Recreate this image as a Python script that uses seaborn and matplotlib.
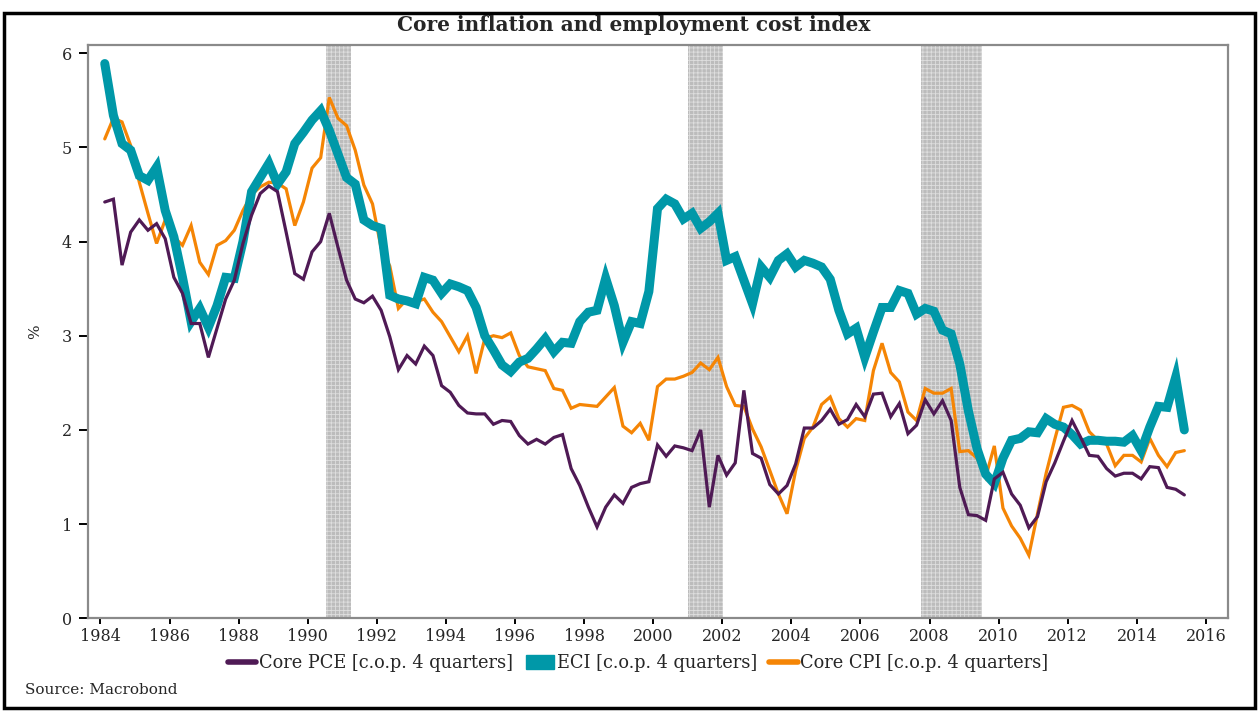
import numpy as np
import pandas as pd
import matplotlib
matplotlib.use("Agg")
import matplotlib.pyplot as plt
from matplotlib.lines import Line2D
from matplotlib.patches import Patch, Rectangle
import seaborn as sns

# ── Data (quarterly, 1984Q1 .. 2015Q2, % change over 4 quarters) ──
FIRST_QUARTER = 1984.125   # plotted at mid-quarter

core_pce = [
    4.42, 4.45, 3.75, 4.10, 4.23, 4.12, 4.19, 4.03, 3.62, 3.45,
    3.13, 3.13, 2.77, 3.08, 3.39, 3.59, 3.98, 4.28, 4.51, 4.59,
    4.53, 4.10, 3.66, 3.60, 3.89, 4.00, 4.30, 3.94, 3.59, 3.39,
    3.35, 3.42, 3.27, 2.99, 2.64, 2.79, 2.70, 2.89, 2.79, 2.47,
    2.40, 2.26, 2.18, 2.17, 2.17, 2.06, 2.10, 2.09, 1.94, 1.85,
    1.90, 1.85, 1.92, 1.95, 1.59, 1.41, 1.18, 0.97, 1.18, 1.31,
    1.22, 1.39, 1.43, 1.45, 1.84, 1.72, 1.83, 1.81, 1.78, 2.00,
    1.18, 1.73, 1.52, 1.65, 2.42, 1.75, 1.70, 1.42, 1.32, 1.41,
    1.64, 2.02, 2.02, 2.10, 2.22, 2.06, 2.11, 2.27, 2.14, 2.38,
    2.39, 2.14, 2.28, 1.96, 2.05, 2.32, 2.17, 2.31, 2.10, 1.39,
    1.10, 1.09, 1.04, 1.48, 1.55, 1.32, 1.20, 0.96, 1.08, 1.45,
    1.65, 1.88, 2.10, 1.92, 1.73, 1.72, 1.59, 1.51, 1.54, 1.54,
    1.48, 1.61, 1.60, 1.39, 1.37, 1.31,
]
eci = [
    5.89, 5.34, 5.04, 4.97, 4.70, 4.65, 4.79, 4.33, 4.05, 3.62,
    3.15, 3.29, 3.09, 3.32, 3.62, 3.61, 4.00, 4.53, 4.68, 4.83,
    4.61, 4.74, 5.04, 5.16, 5.29, 5.39, 5.18, 4.93, 4.68, 4.61,
    4.23, 4.17, 4.14, 3.43, 3.39, 3.37, 3.34, 3.62, 3.59, 3.45,
    3.55, 3.52, 3.48, 3.30, 3.00, 2.85, 2.69, 2.62, 2.72, 2.76,
    2.86, 2.97, 2.83, 2.93, 2.92, 3.15, 3.25, 3.27, 3.61, 3.32,
    2.93, 3.15, 3.13, 3.47, 4.35, 4.45, 4.40, 4.24, 4.30, 4.14,
    4.21, 4.30, 3.80, 3.84, 3.59, 3.34, 3.73, 3.62, 3.80, 3.87,
    3.73, 3.80, 3.77, 3.73, 3.60, 3.27, 3.02, 3.08, 2.77, 3.04,
    3.30, 3.30, 3.48, 3.45, 3.23, 3.29, 3.26, 3.06, 3.02, 2.70,
    2.20, 1.80, 1.53, 1.43, 1.70, 1.89, 1.91, 1.98, 1.97, 2.12,
    2.06, 2.03, 1.95, 1.85, 1.89, 1.89, 1.88, 1.88, 1.87, 1.94,
    1.78, 2.03, 2.25, 2.24, 2.56, 2.00,
]
core_cpi = [
    5.09, 5.31, 5.27, 5.02, 4.63, 4.30, 3.98, 4.23, 4.05, 3.96,
    4.17, 3.78, 3.65, 3.96, 4.01, 4.12, 4.33, 4.50, 4.58, 4.63,
    4.62, 4.56, 4.17, 4.42, 4.78, 4.89, 5.53, 5.31, 5.23, 4.97,
    4.60, 4.40, 3.93, 3.74, 3.29, 3.39, 3.36, 3.39, 3.25, 3.15,
    2.99, 2.83, 3.00, 2.60, 2.97, 3.00, 2.98, 3.03, 2.79, 2.67,
    2.65, 2.63, 2.44, 2.42, 2.23, 2.27, 2.26, 2.25, 2.35, 2.45,
    2.04, 1.97, 2.07, 1.89, 2.46, 2.54, 2.54, 2.57, 2.61, 2.71,
    2.64, 2.77, 2.46, 2.26, 2.25, 2.01, 1.82, 1.57, 1.32, 1.11,
    1.57, 1.91, 2.03, 2.27, 2.35, 2.12, 2.03, 2.12, 2.10, 2.63,
    2.92, 2.61, 2.51, 2.19, 2.10, 2.44, 2.39, 2.39, 2.44, 1.77,
    1.78, 1.70, 1.50, 1.83, 1.17, 0.98, 0.85, 0.67, 1.11, 1.54,
    1.90, 2.24, 2.26, 2.21, 1.98, 1.89, 1.85, 1.62, 1.73, 1.73,
    1.66, 1.91, 1.73, 1.61, 1.76, 1.78,
]
recessions = [(1990.54, 1991.25), (2001.0, 2002.03), (2007.75, 2009.53)]

labels = {
    "pce": "Core PCE [c.o.p. 4 quarters]",
    "eci": "ECI [c.o.p. 4 quarters]",
    "cpi": "Core CPI [c.o.p. 4 quarters]",
}
colors = {"pce": "#4f1a55", "eci": "#0098a8", "cpi": "#f58505"}
widths = {"pce": 2.3, "eci": 6.5, "cpi": 2.3}

years = FIRST_QUARTER + np.arange(len(core_pce)) / 4
df = pd.DataFrame({"year": years, "pce": core_pce, "eci": eci, "cpi": core_cpi})
long_df = df.melt(id_vars="year", var_name="series", value_name="value")

# ── Style ─────────────────────────────────────────────────────
sns.set_style("white")
plt.rcParams["font.family"] = ["DejaVu Serif"]
plt.rcParams["hatch.linewidth"] = 0.6

fig = plt.figure(figsize=(12.59, 7.11), dpi=100)
ax = fig.add_axes([0.0699, 0.1304, 0.9055, 0.8067])

for a, b in recessions:
    ax.axvspan(a, b, facecolor="#bcbcbc", edgecolor="#dedede",
               hatch="++++", linewidth=0, zorder=0)

# draw order: CPI below, ECI, PCE on top
for key, z in [("cpi", 2), ("eci", 3), ("pce", 4)]:
    sns.lineplot(data=long_df[long_df["series"] == key], x="year", y="value",
                 color=colors[key], linewidth=widths[key], ax=ax,
                 legend=False, zorder=z, solid_joinstyle="miter")

ax.set_xlim(1983.64, 2016.64)
ax.set_ylim(0, 6.09)
ax.set_xticks(np.arange(1984, 2017, 2))
ax.set_yticks(range(0, 7))
ax.set_xlabel("")
ax.set_ylabel("%", fontsize=11, labelpad=14)

for s in ax.spines.values():
    s.set_color("#8a8a8a")
    s.set_linewidth(1.6)
ax.tick_params(axis="y", direction="out", length=6.5, width=1.4,
               color="black", labelsize=11.5, pad=5, left=True)
ax.tick_params(axis="x", direction="out", length=4, width=1.4,
               color="black", labelsize=11.5, pad=3, bottom=True)

# ── Title, legend, source, frame ──────────────────────────────
fig.text(0.503, 1 - 25 / 711, "Core inflation and employment cost index",
         ha="center", va="center", fontsize=14.5, fontweight="bold")

handles = [
    Line2D([0], [0], color=colors["pce"], linewidth=4),
    Patch(facecolor=colors["eci"], edgecolor=colors["eci"]),
    Line2D([0], [0], color=colors["cpi"], linewidth=4),
]
fig.legend(handles, [labels["pce"], labels["eci"], labels["cpi"]],
           loc="center", bbox_to_anchor=(0.507, 1 - 663 / 711), ncol=3,
           frameon=False, fontsize=12.8, handlelength=1.6, handleheight=0.8,
           handletextpad=0.15, columnspacing=0.7)

fig.text(25 / 1259, 1 - 690 / 711, "Source: Macrobond", ha="left",
         va="center", fontsize=11)

fig.patches.append(Rectangle((4 / 1259, 3 / 711), 1251 / 1259, 695 / 711,
                             transform=fig.transFigure, fill=False,
                             edgecolor="black", linewidth=2.5))

fig.savefig("out.png", dpi=100)
